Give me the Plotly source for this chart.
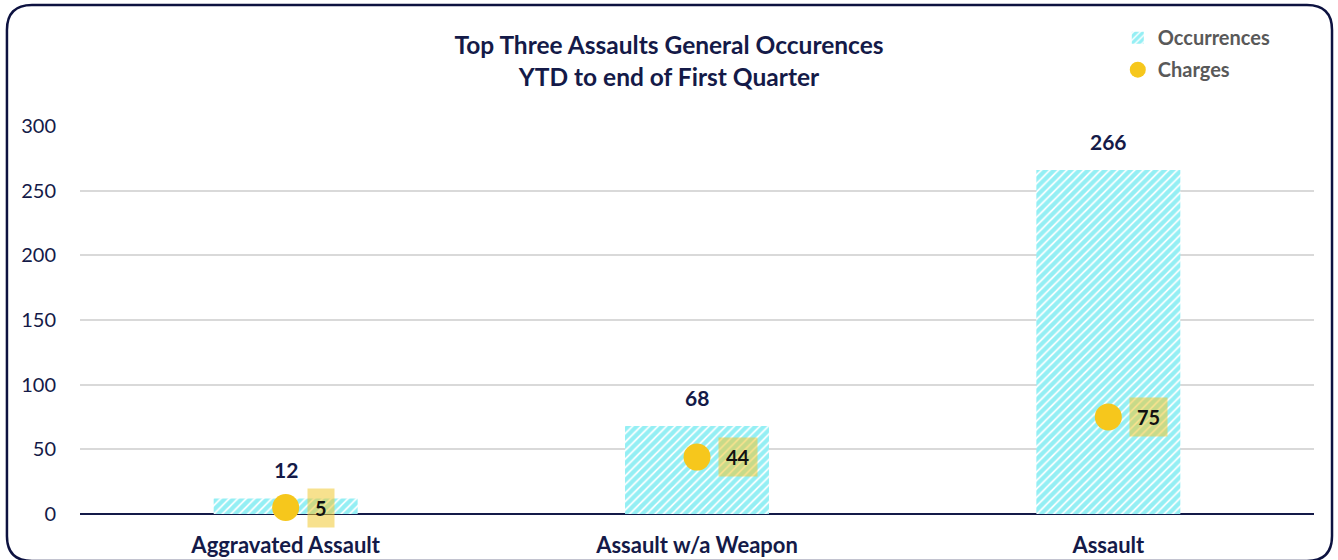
import plotly.graph_objects as go

categories = ["Aggravated Assault", "Assault w/a Weapon", "Assault"]
occurrences = [12, 68, 266]
charges = [5, 44, 75]
y_ticks = [0, 50, 100, 150, 200, 250, 300]

NAVY = "#141a48"
FONT = "Lato"

fig = go.Figure()

fig.add_trace(go.Bar(
    name="Occurrences",
    legendgroup="occ",
    x=categories,
    y=occurrences,
    width=0.35,
    marker=dict(
        color="white",
        line=dict(width=0),
        pattern=dict(shape="/", fgcolor="#2adfea", bgcolor="white",
                     size=6, solidity=0.7, fillmode="overlay"),
    ),
))

fig.add_trace(go.Scatter(
    name="Charges",
    legendgroup="chg",
    x=categories,
    y=charges,
    mode="markers",
    marker=dict(size=27, color="#f6c71c"),
    cliponaxis=False,
))

annotations = []
# value labels above the bars
for cat, v in zip(categories, occurrences):
    annotations.append(dict(
        x=cat, y=v, xref="x", yref="y", text=f"<b>{v}</b>",
        showarrow=False, yanchor="bottom", yshift=14,
        font=dict(family=FONT, size=21, color=NAVY),
    ))
# value labels next to the charge markers
for cat, v in zip(categories, charges):
    annotations.append(dict(
        x=cat, y=v, xref="x", yref="y", text=f"<b>{v}</b>",
        showarrow=False, xanchor="left", yanchor="middle", xshift=21,
        bgcolor="rgba(240,200,50,0.55)", borderpad=7,
        font=dict(family=FONT, size=20, color="#111111"),
    ))

# rounded frame around the whole chart (paper coordinates)
x0, x1 = -0.0592, 1.0146
y0, y1 = -0.1211, 1.3119
rx, ry = 0.0203, 0.0644
frame = (
    f"M {x0+rx},{y1} L {x1-rx},{y1} Q {x1},{y1} {x1},{y1-ry} "
    f"L {x1},{y0+ry} Q {x1},{y0} {x1-rx},{y0} "
    f"L {x0+rx},{y0} Q {x0},{y0} {x0},{y0+ry} "
    f"L {x0},{y1-ry} Q {x0},{y1} {x0+rx},{y1} Z"
)

fig.update_layout(
    width=1338,
    height=560,
    margin=dict(l=80, r=24, t=126, b=46),
    paper_bgcolor="white",
    plot_bgcolor="white",
    font=dict(family=FONT, color=NAVY),
    title=dict(
        text="<b>Top Three Assaults General Occurences<br>YTD to end of First Quarter</b>",
        x=0.5, xanchor="center", y=0.904, yanchor="top",
        font=dict(family=FONT, size=24.5, color=NAVY),
    ),
    legend=dict(
        x=0.841, y=1.278, xanchor="left", yanchor="top",
        font=dict(family=FONT, size=20, color="#595959", weight="bold"),
        bgcolor="rgba(0,0,0,0)",
        itemwidth=30,
        tracegroupgap=3,
    ),
    xaxis=dict(
        showgrid=False, ticks="", showline=False, automargin=False,
        tickfont=dict(family=FONT, size=22, color=NAVY, weight="bold"),
        ticklabelstandoff=16,
    ),
    yaxis=dict(
        range=[0, 300], tickvals=y_ticks, automargin=False,
        showgrid=True, gridcolor="#d9d9d9", gridwidth=1.5,
        zeroline=True, zerolinecolor=NAVY, zerolinewidth=1.5,
        ticks="", showline=False,
        tickfont=dict(family=FONT, size=20, color=NAVY),
        ticklabelstandoff=23,
    ),
    annotations=annotations,
    shapes=[dict(type="path", xref="paper", yref="paper", path=frame,
                 line=dict(color="#0d1240", width=2.5), layer="above")],
    showlegend=True,
)

fig.write_html("out.html")
